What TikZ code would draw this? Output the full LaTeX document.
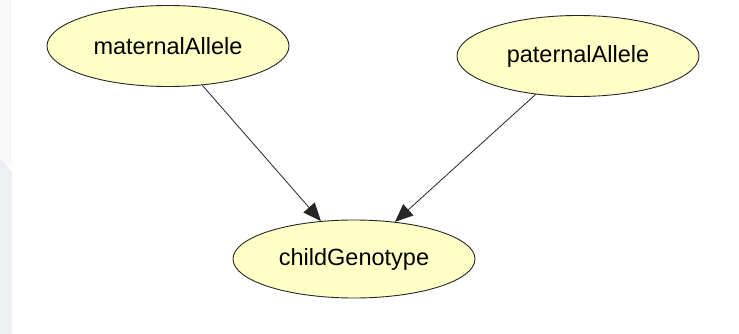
\documentclass[tikz,border=0pt]{standalone}
\usepackage{fontspec}
\setmainfont{Liberation Sans}
\usetikzlibrary{arrows.meta,shapes.geometric}
\definecolor{nodefill}{HTML}{FFFFC6}
\definecolor{stripdark}{HTML}{EDEFF2}
\definecolor{striplight}{HTML}{F8F8F9}
\begin{document}
\begin{tikzpicture}[x=1pt,y=-1pt,
  varnode/.style={ellipse, draw=black!85, line width=0.9pt, fill=nodefill,
    minimum width=242pt, minimum height=81pt, inner sep=0pt,
    font=\fontsize{23.5}{26}\selectfont},
  edge/.style={draw=black!85, line width=0.8pt,
    -{Triangle[length=18pt,width=15pt]}}]
  \useasboundingbox (0,0) rectangle (739,334);
  \fill[white] (0,0) rectangle (739,334);
  % pale side strip
  \fill[striplight] (0,0) rectangle (12,165);
  \fill[stripdark] (0,158) -- (12,172) -- (12,334) -- (0,334) -- cycle;

  \node[varnode] (mat) at (168,46) {maternalAllele};
  \node[varnode] (pat) at (578,56) {paternalAllele};
  \node[varnode, minimum height=78pt] (child) at (354,259) {childGenotype};

  \draw[edge] (mat) -- (child);
  \draw[edge] (pat) -- (child);
\end{tikzpicture}
\end{document}
